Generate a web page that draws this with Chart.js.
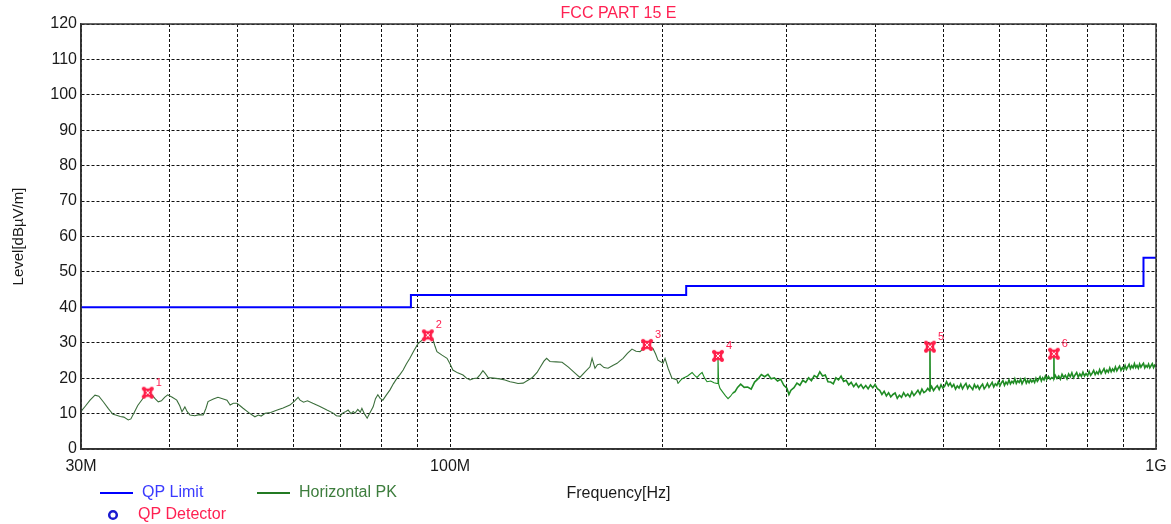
<!DOCTYPE html>
<html>
<head>
<meta charset="utf-8">
<title>FCC PART 15 E</title>
<script src="https://cdn.jsdelivr.net/npm/chart.js@4.4.1/dist/chart.umd.min.js"></script>
<style>
  html, body { margin: 0; padding: 0; background: #fff; }
  #wrap { position: relative; width: 1171px; height: 524px; }
</style>
</head>
<body>
<div id="wrap"><canvas id="emiChart"></canvas></div>
<script>
const FONT = '"Liberation Sans", Arial, sans-serif';

const chartTitle = 'FCC PART 15 E';
const xAxisTitle = 'Frequency[Hz]';
const yAxisTitle = 'Level[dBµV/m]';

// frequencies in MHz
const xTickValues = [30, 40, 50, 60, 70, 80, 90, 100, 200, 300, 400, 500, 600, 700, 800, 900, 1000];
const xTickLabels = { 30: '30M', 100: '100M', 1000: '1G' };

// limit steps [MHz, dBuV/m]
const qpLimit = [
  [30, 40], [88, 40], [88, 43.5], [216, 43.5],
  [216, 46], [960, 46], [960, 54], [1000, 54]
];

// peak scan, horizontal polarisation [MHz, dBuV/m]
const horizontalPk = [
  [30.0, 10.6], [30.4, 12.0], [30.9, 13.8], [31.4, 15.2], [31.8, 14.9], [32.3, 13.2],
  [32.8, 11.4], [33.3, 9.8], [33.6, 9.6], [34.1, 9.2], [34.5, 9.0], [35.0, 8.2],
  [35.3, 8.5], [35.7, 10.4], [36.1, 12.3], [36.6, 13.9], [37.0, 15.2], [37.3, 15.6],
  [37.8, 15.3], [38.2, 14.2], [38.6, 13.3], [39.0, 13.6], [39.4, 14.6], [39.8, 15.3],
  [40.4, 14.6], [41.0, 13.8], [41.4, 12.2], [41.7, 10.5], [42.1, 11.9], [42.4, 10.6],
  [42.8, 9.6], [43.5, 9.4], [44.1, 9.7], [44.7, 9.6], [45.1, 11.5], [45.4, 13.4],
  [46.2, 14.1], [46.9, 14.6], [47.6, 14.2], [48.3, 13.8], [48.8, 12.4], [49.3, 12.9],
  [49.9, 12.9], [50.4, 12.2], [50.9, 11.5], [51.9, 10.2], [52.9, 9.1], [53.5, 9.6],
  [54.0, 9.3], [54.7, 10.1], [55.7, 10.3], [56.9, 11.0], [58.0, 11.6], [59.3, 12.4],
  [60.2, 13.5], [60.9, 14.6], [61.3, 13.8], [62.0, 13.2], [62.8, 13.6], [63.9, 12.9],
  [65.3, 12.1], [66.9, 11.0], [68.2, 10.2], [69.0, 9.4], [69.8, 9.3], [70.5, 10.2],
  [71.2, 10.6], [71.7, 11.0], [72.4, 10.0], [72.9, 10.6], [73.3, 10.1], [74.0, 11.2],
  [74.6, 10.4], [75.0, 11.5], [75.5, 10.2], [76.3, 8.7], [76.9, 10.0], [77.8, 11.9],
  [78.4, 14.2], [79.0, 15.3], [79.6, 14.3], [80.3, 13.8], [81.2, 15.2], [82.2, 16.7],
  [83.1, 18.4], [84.1, 20.0], [84.9, 21.0], [85.8, 22.3], [86.7, 24.0], [87.7, 25.6],
  [88.9, 27.8], [90.1, 29.8], [91.1, 30.6], [92.1, 31.5], [93.0, 31.9], [93.8, 31.6],
  [94.6, 30.8], [95.2, 29.0], [95.8, 27.5], [97.4, 26.5], [99.0, 25.6], [100.0, 24.0],
  [100.9, 22.3], [102.5, 21.5], [104.3, 20.9], [105.5, 20.0], [106.7, 19.5], [108.0, 19.9],
  [109.2, 20.0], [110.3, 21.0], [111.3, 22.1], [112.2, 21.3], [113.2, 20.2], [115.3, 20.0],
  [117.6, 19.8], [119.6, 19.5], [121.6, 19.0], [123.2, 18.8], [124.8, 18.5], [126.9, 18.6],
  [128.9, 19.4], [130.8, 20.2], [132.8, 21.6], [134.3, 23.2], [135.8, 24.8], [137.0, 25.6],
  [138.5, 24.7], [141.3, 24.6], [144.1, 24.5], [147.1, 23.1], [150.3, 21.4], [152.7, 20.2],
  [155.3, 21.8], [157.8, 23.2], [158.9, 25.6], [160.4, 22.8], [161.7, 23.8], [163.1, 24.0],
  [165.2, 23.0], [167.4, 22.8], [170.0, 23.6], [172.4, 24.2], [174.0, 24.9], [175.8, 25.6],
  [178.3, 27.0], [181.0, 28.2], [183.4, 27.6], [185.8, 27.5], [188.0, 28.4], [190.1, 29.2],
  [192.0, 28.8], [193.8, 28.4], [195.5, 26.8], [197.0, 25.1], [200.3, 24.2], [201.6, 25.6],
  [203.6, 22.8], [206.2, 20.0], [208.0, 19.8], [209.6, 19.5], [210.3, 18.5], [212.0, 19.4],
  [213.8, 20.0], [217.0, 20.6], [220.2, 21.6], [222.0, 20.8], [223.8, 20.2], [225.6, 21.0],
  [227.5, 21.6], [229.4, 20.0], [231.2, 19.0], [234.0, 19.2], [236.5, 18.7], [238.9, 18.5],
  [239.6, 26.3], [240.1, 18.4], [241.2, 17.1], [243.5, 16.0], [245.6, 15.0], [247.6, 14.2],
  [249.6, 14.9], [251.5, 15.8], [253.3, 16.2], [255.4, 17.4],
  [258, 18.3], [261, 17.4], [264, 17.5], [267, 16.9], [270, 18.9], [273, 19.8],
  [276, 21.0], [279, 20.4], [282, 21.1], [285, 19.8], [288, 20.1], [291, 19.2],
  [294, 19.7], [297, 18.0], [300, 17.2], [302, 15.4], [304, 16.6], [307, 17.3],
  [310, 18.6], [313, 18.0], [316, 19.4], [319, 18.8], [322, 20.1], [325, 19.3],
  [328, 20.7], [331, 20.2], [334, 21.8], [337, 20.6], [340, 20.9], [343, 19.0],
  [346, 18.9], [349, 18.4], [352, 20.1], [355, 19.5], [358, 20.6], [361, 19.1],
  [364, 19.4], [367, 18.1], [370, 18.8], [373, 17.6], [376, 18.5], [379, 17.4],
  [382, 18.2], [385, 17.1], [388, 17.9], [391, 17.0], [394, 18.1], [397, 17.3],
  [400, 18.2], [403, 17.0], [406, 16.6], [409, 15.4], [412, 16.3], [415, 15.0],
  [418, 15.9], [421, 14.7], [424, 15.4], [427, 15.8], [430, 14.3], [433, 15.2],
  [436, 14.6], [439, 15.9], [442, 14.9], [445, 15.5], [448, 14.7], [451, 16.2],
  [454, 15.1], [457, 15.8], [460, 16.6], [463, 15.5], [466, 16.9], [469, 15.9],
  [472, 16.3], [475, 17.1], [478.0, 16.4], [478.4, 28.9], [478.8, 16.9], [481, 17.7],
  [484, 16.5], [487, 17.3], [490, 17.9], [493, 16.8], [496, 18.1], [499, 17.2],
  [502, 17.8], [505, 19.0], [508, 17.9], [511, 18.6], [514, 17.5], [517, 18.2],
  [520, 16.9], [523, 17.8], [526, 17.2], [529, 18.3], [532, 17.0], [535, 17.9],
  [538, 18.5], [541, 17.1], [544, 18.0], [547, 17.4], [550, 16.8], [553, 18.2],
  [556, 17.3], [559, 17.9], [562, 16.9], [565, 17.7], [568, 18.3], [571, 17.0],
  [574, 17.6], [577, 18.5], [580, 17.4], [583, 18.1], [586, 18.8], [589, 17.5],
  [592, 18.4], [595, 17.9], [598, 19.0], [601, 17.8], [604, 18.7], [607, 19.3],
  [610, 18.0], [613, 18.9], [616, 18.3], [619, 19.5], [622, 18.4], [625, 19.1],
  [628, 18.6], [631, 19.8], [634, 18.5], [637, 19.3], [640, 18.8], [643, 19.7],
  [646, 18.4], [649, 19.2], [652, 19.9], [655, 18.6], [658, 19.4], [661, 18.7],
  [664, 19.6], [667, 18.9], [670, 19.5], [673, 18.8], [676, 20.0], [679, 19.1],
  [682, 19.7], [685, 20.4], [688, 19.2], [691, 20.1], [694, 19.5], [697, 20.6],
  [700, 19.6], [704, 20.5], [708, 19.7], [712, 20.2], [716.4, 19.8], [716.8, 26.9],
  [717.2, 20.0], [720, 20.8], [724, 19.9], [728, 20.6], [732, 19.7], [736, 21.1],
  [740, 20.2], [744, 20.8], [748, 19.8], [752, 21.2], [756, 20.4], [760, 21.5],
  [764, 20.1], [768, 20.9], [772, 21.6], [776, 20.3], [780, 21.2], [784, 20.5],
  [788, 21.7], [792, 20.6], [796, 21.3], [800, 20.7], [804, 21.9], [808, 20.8],
  [812, 21.4], [816, 22.2], [820, 21.0], [824, 21.8], [828, 21.2], [832, 22.4],
  [836, 21.3], [840, 22.0], [844, 22.7], [848, 21.5], [852, 22.3], [856, 21.7],
  [860, 22.9], [864, 21.8], [868, 22.6], [872, 22.0], [876, 23.2], [880, 22.1],
  [884, 22.8], [888, 23.4], [892, 22.2], [896, 23.0], [900, 22.4], [904, 23.6],
  [908, 22.5], [912, 23.2], [916, 23.9], [920, 22.7], [924, 23.5], [928, 22.9],
  [932, 24.1], [936, 23.0], [940, 23.6], [944, 22.8], [948, 24.0], [952, 23.1],
  [956, 23.7], [960, 24.2], [964, 22.9], [968, 23.6], [972, 23.1], [976, 24.0],
  [980, 22.9], [984, 23.5], [988, 24.1], [992, 23.0], [996, 23.7], [1000, 23.3]
];

// QP detector readings
const markerFreqs = [37.3, 93.0, 190.1, 239.6, 478.4, 716.8];
const markerLevels = [15.9, 32.1, 29.4, 26.3, 28.9, 26.9];

const toXY = rows => rows.map(([x, y]) => ({ x, y }));

// red four-lobed cross used for the detector readings
function makeMarker() {
  const c = document.createElement('canvas');
  c.width = 14; c.height = 14;
  const g = c.getContext('2d');
  g.strokeStyle = '#ff1f4a';
  g.lineWidth = 4;
  g.lineCap = 'round';
  g.beginPath();
  g.moveTo(3, 3); g.lineTo(11, 11);
  g.moveTo(11, 3); g.lineTo(3, 11);
  g.stroke();
  g.fillStyle = '#ff1f4a';
  g.beginPath(); g.arc(7, 7, 4.3, 0, Math.PI * 2); g.fill();
  g.strokeStyle = '#ffffff';
  g.lineWidth = 1;
  g.lineCap = 'butt';
  g.beginPath();
  g.moveTo(5, 5); g.lineTo(9, 9);
  g.moveTo(9, 5); g.lineTo(5, 9);
  g.stroke();
  return c;
}

const decorations = {
  id: 'decorations',
  afterDatasetsDraw(chart) {
    const { ctx, chartArea: a, scales: { x, y } } = chart;
    ctx.save();
    ctx.setLineDash([]);
    ctx.strokeStyle = '#333';
    ctx.lineWidth = 1.5;
    ctx.strokeRect(a.left, a.top, a.right - a.left, a.bottom - a.top);

    ctx.fillStyle = '#ff2052';
    ctx.font = '11px ' + FONT;
    ctx.textAlign = 'center';
    ctx.textBaseline = 'middle';
    markerFreqs.forEach((f, i) => {
      ctx.fillText(String(i + 1), x.getPixelForValue(f) + 11, y.getPixelForValue(markerLevels[i]) - 10);
    });
    ctx.restore();
  },
  afterDraw(chart) {
    const { ctx, chartArea: a } = chart;
    ctx.save();
    ctx.textBaseline = 'middle';

    // title over the plot
    ctx.font = '16px ' + FONT;
    ctx.textAlign = 'center';
    ctx.fillStyle = '#ff2052';
    ctx.fillText(chartTitle, (a.left + a.right) / 2, 14);

    // legend
    ctx.textAlign = 'left';
    ctx.lineWidth = 2;
    ctx.strokeStyle = '#0000ff';
    ctx.beginPath(); ctx.moveTo(100, 493); ctx.lineTo(133, 493); ctx.stroke();
    ctx.fillStyle = '#3a3aff';
    ctx.fillText('QP Limit', 142, 493);

    ctx.strokeStyle = '#237a23';
    ctx.beginPath(); ctx.moveTo(257, 493); ctx.lineTo(290, 493); ctx.stroke();
    ctx.fillStyle = '#3d7d3d';
    ctx.fillText('Horizontal PK', 299, 493);

    ctx.strokeStyle = '#1a1ad0';
    ctx.lineWidth = 2.5;
    ctx.beginPath(); ctx.arc(113, 515, 3.8, 0, Math.PI * 2); ctx.stroke();
    ctx.fillStyle = '#ff2052';
    ctx.fillText('QP Detector', 138, 515);
    ctx.restore();
  }
};

Chart.defaults.font.family = FONT;
Chart.defaults.color = '#1a1a1a';

new Chart(document.getElementById('emiChart'), {
  type: 'line',
  data: {
    datasets: [
      {
        label: 'QP Detector',
        data: toXY(markerFreqs.map((f, i) => [f, markerLevels[i]])),
        showLine: false,
        pointStyle: makeMarker(),
        pointRadius: 7,
        order: 0
      },
      {
        label: 'QP Limit',
        data: toXY(qpLimit),
        borderColor: '#0000ff',
        borderWidth: 2,
        pointRadius: 0,
        order: 1
      },
      {
        label: 'Horizontal PK',
        data: toXY(horizontalPk),
        borderColor: '#2a862a',
        borderWidth: 1.2,
        pointRadius: 0,
        tension: 0,
        order: 2,
        // the dense upper part of the sweep reads as a heavier, brighter trace
        segment: {
          borderColor: c => (c.p0.parsed.x < 210 ? '#3b6e3b' : '#1f8c24'),
          borderWidth: c => (c.p0.parsed.x < 250 ? 1.1 : 1.6)
        }
      }
    ]
  },
  options: {
    responsive: true,
    maintainAspectRatio: false,
    animation: false,
    layout: { padding: { left: 0, top: 24, right: 15, bottom: 0 } },
    plugins: {
      legend: { display: false },
      title: { display: false },
      tooltip: { enabled: false }
    },
    scales: {
      x: {
        type: 'logarithmic',
        min: 30,
        max: 1000,
        afterBuildTicks: scale => { scale.ticks = xTickValues.map(v => ({ value: v })); },
        afterFit: scale => {
          scale.height = 75;
          scale.paddingLeft = 0;
          scale.paddingRight = 0;
        },
        ticks: {
          autoSkip: false,
          maxRotation: 0,
          padding: 8,
          font: { size: 16 },
          callback: value => xTickLabels[value] || ''
        },
        grid: { color: '#111', lineWidth: 1, drawTicks: false },
        border: { display: true, color: '#333', width: 1.5, dash: [3, 2] },
        title: { display: true, text: xAxisTitle, font: { size: 16 }, padding: { top: 0, bottom: 21 } }
      },
      y: {
        min: 0,
        max: 120,
        afterFit: scale => { scale.width = 81; },
        ticks: { stepSize: 10, padding: 4, font: { size: 16 } },
        grid: { color: '#111', lineWidth: 1, drawTicks: false },
        border: { display: true, color: '#333', width: 1.5, dash: [3, 2] },
        title: { display: true, text: yAxisTitle, font: { size: 15 }, padding: { top: 10, bottom: 0 } }
      }
    }
  },
  plugins: [decorations]
});
</script>
</body>
</html>
